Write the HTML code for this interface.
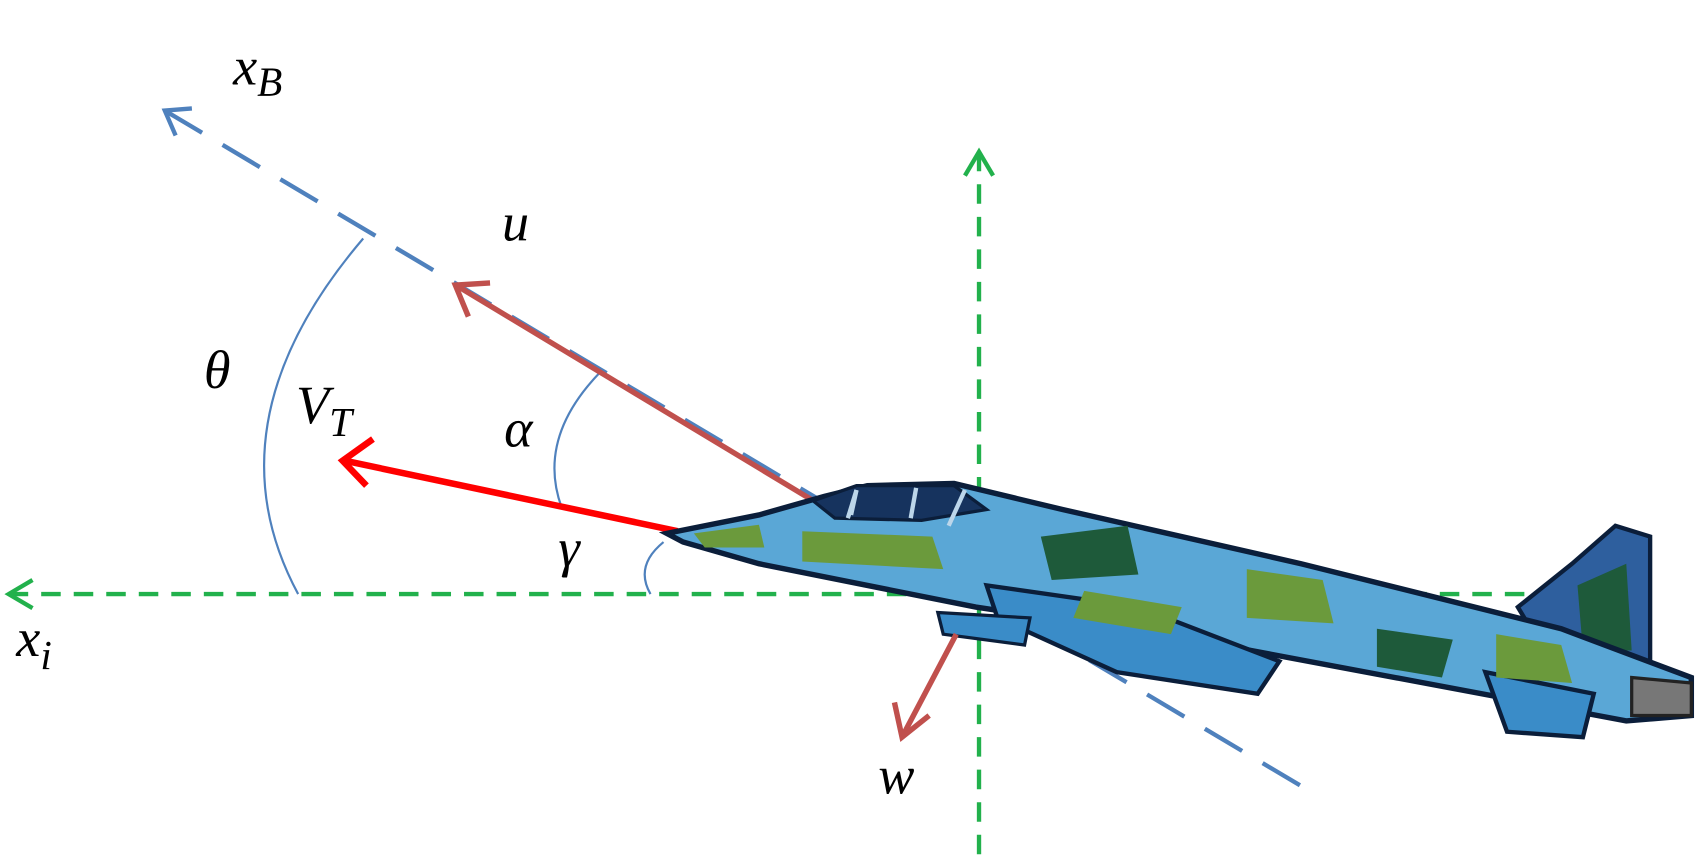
<!DOCTYPE html>
<html><head><meta charset="utf-8"><style>
html,body{margin:0;padding:0;background:#fff;}
svg{display:block;}
text{font-family:"Liberation Serif",serif;font-style:italic;fill:#000;}
</style></head><body>
<svg width="1700" height="864" viewBox="0 0 1568 797" preserveAspectRatio="none">
<!-- green inertial axes -->
<g>
<line x1="8" y1="548" x2="1420" y2="548" stroke="#22b14c" stroke-width="4" stroke-dasharray="18,12"/>
<polyline points="30,535 8,548 30,561" fill="none" stroke="#22b14c" stroke-width="4"/>
</g>
<g>
<line x1="903" y1="140" x2="903" y2="797" stroke="#22b14c" stroke-width="4" stroke-dasharray="18,12"/>
<polyline points="890,162 903,140 916,162" fill="none" stroke="#22b14c" stroke-width="4"/>
</g>
<!-- body x axis -->
<g>
<line x1="152" y1="102" x2="1200" y2="725" stroke="#4f81bd" stroke-width="4" stroke-dasharray="40,22"/>
<polyline points="162,125 152,102 177,100" fill="none" stroke="#4f81bd" stroke-width="4"/>
</g>
<!-- arcs -->
<path d="M335,220 Q190,390 275,548" fill="none" stroke="#4f81bd" stroke-width="2"/>
<path d="M552,345 Q495,405 518,468" fill="none" stroke="#4f81bd" stroke-width="2"/>
<path d="M612,500 Q585,522 600,548" fill="none" stroke="#4f81bd" stroke-width="2"/>
<!-- u arrow -->
<g>
<line x1="752" y1="463" x2="422" y2="264" stroke="#c0504d" stroke-width="5"/>
<polyline points="432,292 420,263 452,261" fill="none" stroke="#c0504d" stroke-width="5"/>
</g>
<!-- VT arrow -->
<g>
<line x1="625" y1="490" x2="318" y2="425" stroke="#ff0000" stroke-width="6"/>
<polyline points="344,405 316,425 338,448" fill="none" stroke="#ff0000" stroke-width="6"/>
</g>
<!-- jet -->
<g>
<polygon points="1400,560 1450,520 1490,485 1522,495 1522,615 1430,610" fill="#2e5f9e" stroke="#0b1e3a" stroke-width="4"/>
<polygon points="1455,540 1500,520 1505,600 1460,600" fill="#1e5a3a"/>
<polygon points="615,492 700,475 760,458 800,448 880,446 980,470 1200,520 1440,580 1520,610 1560,625 1560,660 1500,665 1420,650 1100,590 900,560 700,520 630,500" fill="#5aa7d6" stroke="#0b1e3a" stroke-width="5"/>
<polygon points="750,462 790,448 880,448 910,470 850,480 770,478" fill="#16335e" stroke="#0b1e3a" stroke-width="3"/>
<polyline points="790,452 785,475 M845,452" fill="none" stroke="#bcd6ea" stroke-width="4"/>
<line x1="790" y1="452" x2="782" y2="478" stroke="#bcd6ea" stroke-width="4"/>
<line x1="845" y1="450" x2="840" y2="478" stroke="#bcd6ea" stroke-width="4"/>
<line x1="890" y1="452" x2="875" y2="485" stroke="#bcd6ea" stroke-width="4"/>
<polygon points="910,540 1050,560 1180,610 1160,640 1030,620 920,570" fill="#3a8cc8" stroke="#0b1e3a" stroke-width="4"/>
<polygon points="1370,620 1470,640 1460,680 1390,675" fill="#3a8cc8" stroke="#0b1e3a" stroke-width="4"/>
<polygon points="865,565 950,570 945,595 870,585" fill="#3a8cc8" stroke="#0b1e3a" stroke-width="3"/>
<polygon points="740,490 860,495 870,525 740,518" fill="#6b9a3c"/>
<polygon points="960,495 1040,485 1050,530 970,535" fill="#1e5a3a"/>
<polygon points="1150,525 1220,535 1230,575 1150,570" fill="#6b9a3c"/>
<polygon points="1270,580 1340,590 1330,625 1270,615" fill="#1e5a3a"/>
<polygon points="1380,585 1440,595 1450,630 1380,625" fill="#6b9a3c"/>
<polygon points="1000,545 1090,560 1080,585 990,570" fill="#6b9a3c"/>
<polygon points="640,492 700,484 705,505 650,505" fill="#6b9a3c"/>
<polygon points="1505,625 1560,630 1560,660 1505,660" fill="#777" stroke="#222" stroke-width="3"/>
</g>
<!-- w arrow -->
<g>
<line x1="882" y1="585" x2="833" y2="678" stroke="#c0504d" stroke-width="5"/>
<polyline points="825,648 832,680 857,660" fill="none" stroke="#c0504d" stroke-width="5"/>
</g>
<!-- labels -->
<text x="215" y="78" font-size="50">x<tspan font-size="38" dy="10">B</tspan></text>
<text x="463" y="222" font-size="50">u</text>
<text x="188" y="358" font-size="50">θ</text>
<text x="273" y="390" font-size="50">V<tspan font-size="38" dy="12">T</tspan></text>
<text x="465" y="412" font-size="50">α</text>
<text x="515" y="522" font-size="50">γ</text>
<text x="15" y="605" font-size="50">x<tspan font-size="38" dy="12">i</tspan></text>
<text x="810" y="732" font-size="50">w</text>
</svg>
</body></html>
